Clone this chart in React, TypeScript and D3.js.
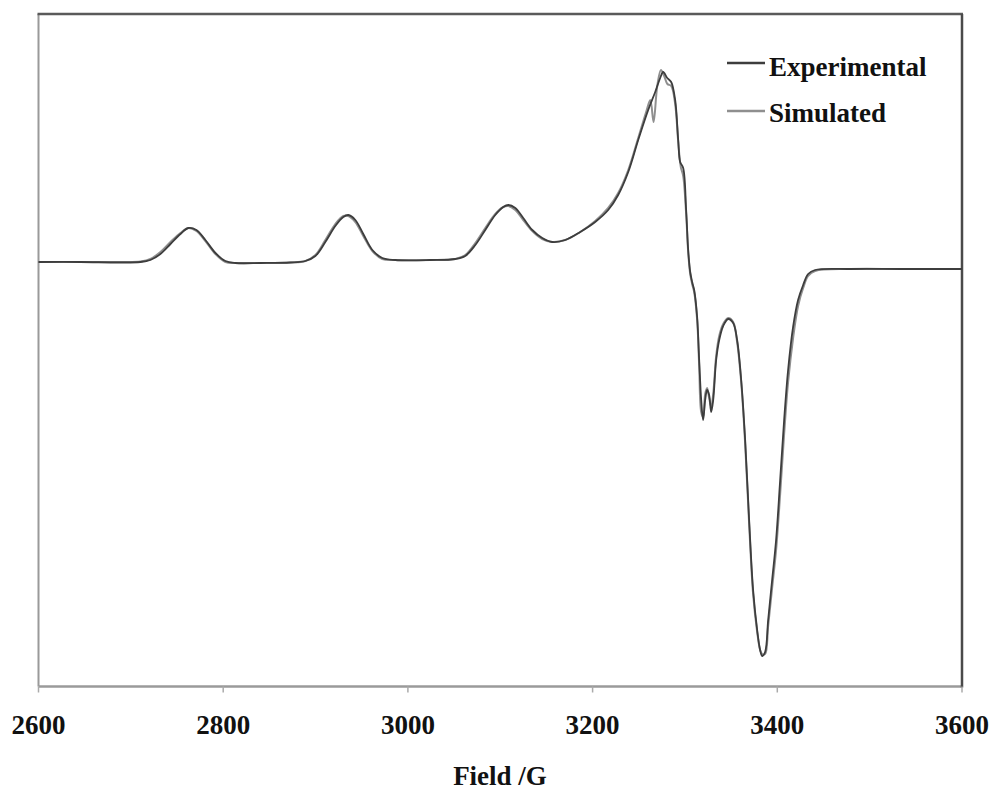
import React from 'react'
import * as d3 from 'd3'

// field (G) and intensity (arbitrary units)
const fieldExp = [
  2600, 2645.5, 2688.7, 2710.4, 2721.2, 2732, 2742.9, 2753.7, 2762.3, 2771, 2780.7, 2791.6, 2802.4, 2813.2,
  2840.3, 2872.7, 2889, 2899.8, 2910.6, 2921.4, 2930.1, 2935.5, 2943.1, 2951.7, 2961.5, 2972.3, 2986.4,
  3024.3, 3051.3, 3062.1, 3073, 3083.8, 3094.6, 3103.3, 3108.7, 3116.3, 3124.9, 3134.7, 3145.5, 3156.3,
  3170.4, 3186.6, 3202.8, 3216.9, 3227.7, 3238.6, 3249.4, 3260.2, 3267.8, 3273.2, 3276.4, 3280.8, 3285.1,
  3289.4, 3292.7, 3294.8, 3298.1, 3301.3, 3303.5, 3305.7, 3307.8, 3310, 3313.2, 3315.4, 3317.6, 3319.7,
  3321.9, 3324, 3326.2, 3328.4, 3330.6, 3333.8, 3337.1, 3341.4, 3346.8, 3352.2, 3356.5, 3360.9, 3365.2,
  3369.5, 3373.8, 3378.2, 3381.4, 3383.6, 3386.8, 3390.1, 3394.4, 3398.7, 3403.1, 3407.4, 3411.7, 3417.1,
  3422.5, 3428, 3433.4, 3440.9, 3478.8, 3532.9, 3600,
]
const intensityExp = [
  0, 0, -0.5, 0, 2, 8, 18, 28, 34, 32, 22, 9, 1, -1,
  -1, -0.5, 1, 6, 20, 36, 45, 47, 42, 28, 12, 4, 2,
  2, 3, 6, 17, 32, 47, 55, 57, 54, 44, 32, 24, 20,
  22, 30, 40, 52, 67, 90, 122, 152, 170, 184, 190, 184, 180,
  162, 122, 100, 94, 52, 12, -10, -20, -28, -55, -98, -138, -158,
  -138, -128, -133, -150, -138, -98, -78, -64, -57, -61, -78, -118, -178,
  -258, -328, -368, -388, -394, -390, -358, -318, -278, -218, -158, -108, -65,
  -38, -23, -12, -8, -7, -7, -7,
]

const fieldSim = [
  2600, 2645.5, 2688.7, 2710.4, 2721.2, 2732, 2742.9, 2753.7, 2762.3, 2771, 2780.7, 2791.6, 2802.4, 2813.2,
  2840.3, 2872.7, 2889, 2899.8, 2910.6, 2921.4, 2930.1, 2935.5, 2943.1, 2951.7, 2961.5, 2972.3, 2986.4,
  3024.3, 3051.3, 3062.1, 3073, 3083.8, 3094.6, 3103.3, 3108.7, 3116.3, 3124.9, 3134.7, 3145.5, 3156.3,
  3170.4, 3186.6, 3202.8, 3216.9, 3227.7, 3238.6, 3249.4, 3258, 3262.5, 3266, 3270, 3274, 3277.5, 3281, 3285.1,
  3289.4, 3292.7, 3295.5, 3298.1, 3301.3, 3303.5, 3305.7, 3307.8, 3310, 3313.2, 3315.4, 3317.6, 3319.7,
  3321.9, 3324, 3326.2, 3328.4, 3330.6, 3333.8, 3337.1, 3341.4, 3346.8, 3352.2, 3356.5, 3360.9, 3365.2,
  3369.5, 3373.8, 3378.2, 3381.4, 3383.6, 3386.8, 3390.1, 3394.4, 3398.7, 3403.1, 3407.4, 3411.7, 3417.1,
  3422.5, 3428, 3433.4, 3440.9, 3478.8, 3532.9, 3600,
]
const intensitySim = [
  0, 0, 0, 0.5, 3, 10, 20, 29, 34, 31, 21, 8, 0, -1,
  -1, -0.5, 1, 7, 22, 38, 46, 46, 40, 26, 11, 3, 2,
  2, 3, 7, 19, 34, 48, 55, 56, 52, 42, 31, 23, 20,
  22, 30, 41, 54, 69, 92, 124, 150, 162, 140, 176, 192, 186, 178, 176,
  158, 120, 95, 86, 48, 10, -12, -22, -30, -58, -104, -150, -155,
  -132, -126, -136, -145, -132, -94, -74, -62, -56, -60, -80, -120, -182,
  -262, -332, -370, -388, -392, -392, -364, -326, -288, -232, -172, -120, -76,
  -44, -26, -14, -9, -7, -7, -7,
]

const xTicks = [2600, 2800, 3000, 3200, 3400, 3600]
const seriesNames = ['Experimental', 'Simulated']
const seriesColors = ['#3d3d3d', '#8f8f8f']

const W = 996
const H = 791
const left = 38.5
const right = 962
const top = 14
const bottom = 686.5

export default function App() {
  const x = d3.scaleLinear().domain([2600, 3600]).range([left, right])
  const y = d3.scaleLinear().domain([-424.5, 248]).range([bottom, top])

  const line = d3
    .line<[number, number]>()
    .x(d => x(d[0]))
    .y(d => y(d[1]))
    .curve(d3.curveCatmullRom.alpha(0.5))

  const expPts = fieldExp.map((f, i) => [f, intensityExp[i]] as [number, number])
  const simPts = fieldSim.map((f, i) => [f, intensitySim[i]] as [number, number])

  const font = '"Liberation Serif", "Times New Roman", serif'

  return (
    <svg width={W} height={H} style={{ position: 'absolute', left: 0, top: 0, background: '#fff' }}>
      {/* frame */}
      <line x1={left} y1={top} x2={left} y2={bottom} stroke="#9a9a9a" strokeWidth={2} />
      <line x1={left} y1={bottom} x2={right} y2={bottom} stroke="#9a9a9a" strokeWidth={2.5} />
      <line x1={left - 1} y1={top} x2={right + 1} y2={top} stroke="#5a5a5a" strokeWidth={2.5} />
      <line x1={right} y1={top} x2={right} y2={bottom + 1} stroke="#4a4a4a" strokeWidth={2.5} />

      {/* x ticks and labels */}
      {xTicks.map(t => (
        <g key={t}>
          <line x1={x(t)} y1={bottom} x2={x(t)} y2={bottom + 6} stroke="#aaa" strokeWidth={1.5} />
          <text
            x={x(t)}
            y={734}
            textAnchor="middle"
            fontFamily={font}
            fontWeight="bold"
            fontSize={27}
            fill="#111"
          >
            {t}
          </text>
        </g>
      ))}
      <text x={500} y={785} textAnchor="middle" fontFamily={font} fontWeight="bold" fontSize={27} fill="#111">
        Field /G
      </text>

      {/* spectra */}
      <path d={line(simPts) || ''} fill="none" stroke={seriesColors[1]} strokeWidth={2} />
      <path d={line(expPts) || ''} fill="none" stroke={seriesColors[0]} strokeWidth={1.8} />

      {/* legend */}
      {seriesNames.map((name, i) => (
        <g key={name}>
          <line x1={727} y1={63 + i * 48} x2={765} y2={63 + i * 48} stroke={seriesColors[i]} strokeWidth={2.5} />
          <text x={769} y={76 + i * 46} fontFamily={font} fontWeight="bold" fontSize={27} fill="#111">
            {name}
          </text>
        </g>
      ))}
    </svg>
  )
}
